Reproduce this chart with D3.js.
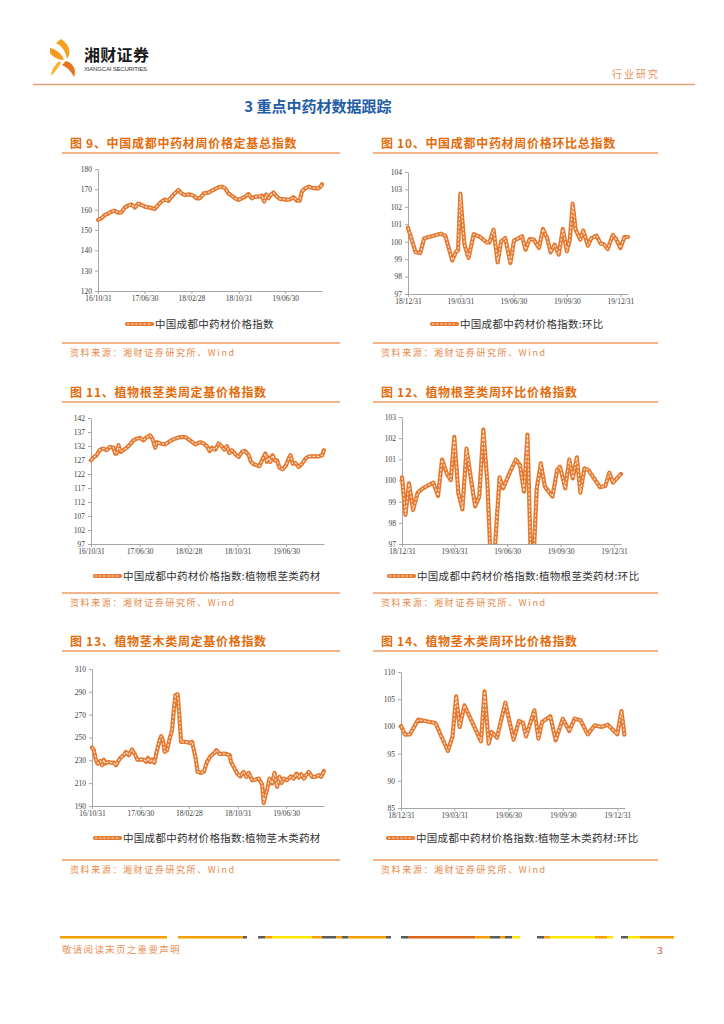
<!DOCTYPE html>
<html><head><meta charset="utf-8">
<script src="https://cdn.jsdelivr.net/npm/d3@7"></script>
<style>body{margin:0;background:#fff}svg{display:block}</style>
</head><body><svg id="c" width="724" height="1024"></svg>
<script>
// ---------- DATA ----------
const longBase = "2016-10-31";
const shortBase = "2018-12-31";
const longTickLabels = ["16/10/31","17/06/30","18/02/28","18/10/31","19/06/30"];
const shortTickLabels = ["18/12/31","19/03/31","19/06/30","19/09/30","19/12/31"];

// Fig 9 (days since 2016-10-31)
const c9Days = [0,17,35,52,69,87,104,122,139,156,174,191,208,226,243,269,295,312,330,347,365,382,399,417,434,451,477,495,512,529,550,573,599,625,642,660,677,694,712,729,746,764,781,798,816,833,851,863,873,885,897,911,929,946,963,981,998,1015,1033,1047,1059,1076,1094,1111,1128,1146,1158,1163];
const c9Vals = [155,155.7,157.4,158,159,159.5,158.5,158.7,161,162,162.6,161,163,162.3,161.5,161,160.3,162.3,164,165,164.3,166.4,168,169.7,168,167.2,167.5,166.9,165.6,165.6,168,168.4,169.7,171,171.3,170.5,168,166.9,165.6,164.8,165.6,166.4,167.7,165.6,166.4,166.4,166.9,164,167.5,165.6,167.2,168.4,166.4,165.2,165.2,164.8,165.1,166.1,164.4,164.4,168.9,170.5,171.3,170.8,170.5,170.5,171.6,172.5];
const c9YTicks = [120,130,140,150,160,170,180];

// Fig 10 (days since 2018-12-31)
const c10Days = [0,13,21,28,36,56,64,76,83,86,90,93,97,104,113,124,135,140,147,154,160,167,176,182,196,202,209,216,225,232,239,245,252,259,266,273,278,283,288,296,301,309,315,324,331,336,343,352,358,365,372,378];
const c10Vals = [100.8,99.4,99.35,100.2,100.27,100.46,100.35,98.93,99.45,99.5,102.76,101.36,99.83,99.07,100.44,100.27,99.96,99.96,100.69,98.82,100.02,100.21,98.78,100.06,100.31,99.54,100.15,100.12,99.64,100.73,100.21,99.39,99.83,99.26,100.73,99.45,100.12,102.18,100.69,100.12,100.65,99.77,100.21,100.35,99.89,99.87,99.58,100.39,100.12,99.64,100.27,100.27];
const c10YTicks = [97,98,99,100,101,102,103,104];

// Fig 11
const c11Days = [0,12,28,45,62,78,95,112,120,128,137,148,161,178,195,211,228,245,261,278,295,306,320,328,345,370,395,419,444,469,494,519,544,561,578,591,603,619,636,652,664,677,689,702,719,736,752,769,786,797,811,839,852,869,877,886,894,905,915,927,939,955,972,985,994,1005,1019,1035,1052,1069,1085,1110,1135,1152,1160];
const c11Vals = [126.9,127.9,128.7,130.7,131.1,130.5,131.7,131.4,129.3,129.3,132.3,129.9,130.5,131.4,132.6,134,134.6,134.9,134,135.2,135.8,134.6,131.4,133.4,132.9,132.6,133.8,134.6,135.2,135.2,134,132.6,133.4,132.9,131.9,130.2,131.4,130.7,132.9,131.9,130.7,131.9,129.5,130.5,129.1,128.1,129.9,130.2,128.7,126.3,125.5,124.8,126.9,129.3,126.3,127.9,126.3,128.7,126.9,126.9,124.3,123.7,125.1,127.5,128.7,125.7,125.9,124.5,125.7,127.5,128.3,128.3,128.3,128.7,130.5];
const c11YTicks = [97,102,107,112,117,122,127,132,137,142];

// Fig 12
const c12Days = [0,6,12,19,27,36,54,62,69,77,84,90,97,104,111,119,126,133,140,147,153,158,168,174,186,196,203,210,216,222,226,232,239,246,259,267,272,281,288,294,301,307,314,321,341,350,357,363,370,377];
const c12Vals = [100.15,98.38,99.87,98.61,99.43,99.63,99.9,99.27,100.99,100.34,100.02,102.06,99.4,98.64,101.51,100.02,98.77,99.24,102.4,99.87,96,96,100.15,99.63,100.41,100.99,100.73,99.47,102.17,96,96,99.63,100.81,99.71,99.24,100.49,100.65,99.63,100.99,100.1,101.09,99.43,100.57,100.49,99.68,99.74,100.37,99.9,100.1,100.31];
const c12YTicks = [97,98,99,100,101,102,103];

// Fig 13
const c13Days = [0,8,20,28,42,50,59,67,79,95,109,120,129,142,159,170,184,200,217,226,242,259,272,281,292,301,312,326,339,347,356,364,376,389,401,409,418,429,438,446,468,493,501,518,529,543,560,576,593,610,623,640,660,676,690,696,710,727,743,760,773,785,802,818,835,852,860,869,877,889,902,914,927,939,949,960,974,985,997,1010,1024,1035,1047,1061,1072,1086,1102,1119,1136,1147,1156,1161];
const c13Vals = [241.2,239.5,230.1,227.2,229.5,225.7,230.7,227.2,228.6,228,228,225.7,228.6,232.1,234.5,237.4,234.5,239.5,234.5,230.7,230.7,230.7,228.6,232.1,228.6,230.7,227.8,238.9,247.7,251.2,247.1,237.4,238.9,249.1,256.4,272.5,287.2,287.8,268.1,246.2,246.2,245.3,246.2,233,219.9,219,219.9,228.6,233.6,236,238.9,235.4,236,235.4,234.5,228.6,224.2,218.4,216,219.9,215.5,219,212.5,213.1,214,209,192.6,199.4,204.3,214,209.6,219,206.7,215.5,210.2,214,212.5,214,216,214,218.4,214.9,217.8,214,217,219.9,215.5,215.5,217,215.5,218.4,220.7];
const c13YTicks = [190,210,230,250,270,290,310];

// Fig 14
const c14Days = [0,7,15,29,58,79,87,93,99,107,135,141,148,153,162,176,190,199,206,211,225,232,238,252,261,273,284,293,303,315,327,338,349,365,372,377];
const c14Vals = [100.07,98.48,98.54,101.24,100.63,95.48,98.17,105.53,99.89,103.87,97.25,106.45,96.83,98.97,97.93,104.36,97.56,100.99,100.63,98.17,102.95,97.75,100.81,101.85,97.44,101.42,99.15,101.42,101.12,98.54,100.2,99.89,100.32,98.54,102.83,98.48];
const c14YTicks = [85,90,95,100,105,110];

const titles = ["图 9、中国成都中药材周价格定基总指数","图 10、中国成都中药材周价格环比总指数","图 11、植物根茎类周定基价格指数","图 12、植物根茎类周环比价格指数","图 13、植物茎木类周定基价格指数","图 14、植物茎木类周环比价格指数"];
const legends = ["中国成都中药材价格指数","中国成都中药材价格指数:环比","中国成都中药材价格指数:植物根茎类药材","中国成都中药材价格指数:植物根茎类药材:环比","中国成都中药材价格指数:植物茎木类药材","中国成都中药材价格指数:植物茎木类药材:环比"];
const sourceText = "资料来源：湘财证券研究所、Wind";

// ---------- LAYOUT ----------
const svg = d3.select("#c");
const ORANGE = "#E4782E";
const parseISO = d3.timeParse("%Y-%m-%d");
const parseTick = d3.timeParse("%y/%m/%d");

// header
const logo = svg.append("g");
logo.append("path").attr("d","M61,39 C69,44 72,52 67,59 C66,52 62,46 56,43 Z").attr("fill","#F5A21E");
logo.append("path").attr("d","M50,48 C56,49 62,54 64,60 C58,60 53,57 50,53 Z").attr("fill","#F39A1E");
logo.append("path").attr("d","M66,61 C73,63 77,70 74,77 C71,71 67,67 62,65 Z").attr("fill","#E8731E");
logo.append("path").attr("d","M61,63 C58,68 55,72 51,76 C51,70 55,65 59,61 Z").attr("fill","#F7B52B");
svg.append("text").attr("x",84).attr("y",61).text("湘财证券")
  .attr("font-family","Noto Sans CJK SC").attr("font-weight","bold").attr("font-size",16).attr("fill","#1a1a1a").attr("letter-spacing",0.3);
svg.append("text").attr("x",84).attr("y",70.5).text("XIANGCAI SECURITIES")
  .attr("font-family","Liberation Sans Narrow, Liberation Sans").attr("font-size",6).attr("fill","#333").attr("textLength",63);
svg.append("text").attr("x",612).attr("y",78).text("行业研究")
  .attr("font-family","Noto Sans CJK SC").attr("font-size",10).attr("fill","#E8925A").attr("letter-spacing",2);
svg.append("line").attr("x1",33).attr("x2",695).attr("y1",84.5).attr("y2",84.5).attr("stroke","#E8A07A").attr("stroke-width",1.5);
svg.append("text").attr("x",318).attr("y",112).attr("text-anchor","middle").text("3 重点中药材数据跟踪")
  .attr("font-family","Noto Sans CJK SC").attr("font-weight","bold").attr("font-size",15).attr("fill","#1F5DA6");

const rows = [
  {title:147.5, rule:153, legend:324, srcRule:343, src:356},
  {title:396.5, rule:402, legend:576, srcRule:593, src:606},
  {title:646, rule:651, legend:838, srcRule:860, src:873}
];
const cols = [{tx:70, r0:62, r1:340}, {tx:381, r0:373, r1:658}];

const panels = [
  {row:0,col:0,days:c9Days,vals:c9Vals,yTicks:c9YTicks,base:longBase,end:1163,ticks:longTickLabels,x0:98,x1:322,yT:169,yB:291,lx:127},
  {row:0,col:1,days:c10Days,vals:c10Vals,yTicks:c10YTicks,base:shortBase,end:378,ticks:shortTickLabels,x0:408,x1:628,yT:172,yB:294,lx:432},
  {row:1,col:0,days:c11Days,vals:c11Vals,yTicks:c11YTicks,base:longBase,end:1161,ticks:longTickLabels,x0:91,x1:324,yT:418,yB:544,lx:95},
  {row:1,col:1,days:c12Days,vals:c12Vals,yTicks:c12YTicks,base:shortBase,end:377,ticks:shortTickLabels,x0:402,x1:621,yT:417,yB:544,lx:389},
  {row:2,col:0,days:c13Days,vals:c13Vals,yTicks:c13YTicks,base:longBase,end:1162,ticks:longTickLabels,x0:92,x1:324,yT:669,yB:806,lx:95},
  {row:2,col:1,days:c14Days,vals:c14Vals,yTicks:c14YTicks,base:shortBase,end:378,ticks:shortTickLabels,x0:401,x1:625,yT:672,yB:808,lx:388}
];

function styledLine(g, d) {
  g.append("path").attr("d",d).attr("fill","none").attr("stroke",ORANGE).attr("stroke-width",4.2)
    .attr("stroke-linejoin","round").attr("stroke-linecap","round");
  g.append("path").attr("d",d).attr("fill","none").attr("stroke","#fff").attr("stroke-width",1.1)
    .attr("stroke-dasharray","2.5,1.6").attr("opacity",0.8).attr("stroke-linejoin","round");
}

panels.forEach((p,i) => {
  const R = rows[p.row], C = cols[p.col];
  // title + rules
  svg.append("text").attr("x",C.tx).attr("y",R.title).text(titles[i])
    .attr("font-family","Noto Sans CJK SC").attr("font-weight","bold").attr("font-size",12)
    .attr("fill","#E46C0A").attr("letter-spacing",0.7);
  svg.append("line").attr("x1",C.r0).attr("x2",C.r1).attr("y1",R.rule).attr("y2",R.rule).attr("stroke","#EE9C62").attr("stroke-width",1.6);
  svg.append("line").attr("x1",C.r0).attr("x2",C.r1).attr("y1",R.srcRule).attr("y2",R.srcRule).attr("stroke","#EE9C62").attr("stroke-width",1.6);
  svg.append("text").attr("x",C.tx).attr("y",R.src).text(sourceText)
    .attr("font-family","Noto Sans CJK SC").attr("font-size",9).attr("fill","#E8894A").attr("letter-spacing",1.6);

  const base = parseISO(p.base);
  const x = d3.scaleTime().domain([base, d3.timeDay.offset(base, p.end)]).range([p.x0, p.x1]);
  const y = d3.scaleLinear().domain(d3.extent(p.yTicks)).range([p.yB, p.yT]);

  // axes
  const ya = svg.append("g").attr("transform",`translate(${p.x0},0)`)
    .call(d3.axisLeft(y).tickValues(p.yTicks).tickFormat(d3.format("d")).tickSize(3).tickSizeOuter(0).tickPadding(3));
  const xa = svg.append("g").attr("transform",`translate(0,${p.yB})`)
    .call(d3.axisBottom(x).tickValues(p.ticks.map(parseTick)).tickFormat(d3.timeFormat("%y/%m/%d")).tickSize(3).tickSizeOuter(0).tickPadding(2));
  [ya,xa].forEach(a => {
    a.select(".domain").attr("stroke","#A6A6A6");
    a.selectAll(".tick line").attr("stroke","#A6A6A6");
    a.selectAll(".tick text").attr("font-family","Liberation Serif").attr("font-size",7.5).attr("fill","#404040");
  });

  // clip
  const cid = "clip"+i;
  svg.append("clipPath").attr("id",cid).append("rect")
    .attr("x",p.x0-3).attr("y",p.yT-20).attr("width",p.x1-p.x0+8).attr("height",p.yB-p.yT+20);
  const pts = p.days.map((d,k) => [d3.timeDay.offset(base, d), p.vals[k]]);
  const line = d3.line().x(d => x(d[0])).y(d => y(d[1]));
  const g = svg.append("g").attr("clip-path",`url(#${cid})`);
  styledLine(g, line(pts));

  // legend
  styledLine(svg.append("g"), `M${p.lx},${R.legend}L${p.lx+25},${R.legend}`);
  svg.append("text").attr("x",p.lx+28).attr("y",R.legend+3.8).text(legends[i])
    .attr("font-family","Noto Sans CJK SC").attr("font-size",10.5).attr("fill","#333").attr("letter-spacing",0.3);
});

// footer decorative band
const footerSegs = [
  [60,167,"#F5A000"],[178,243,"#F5A000"],[243,247,"#5B5B5B"],
  [258,265,"#5B5B5B"],[265,272,"#F5A000"],[272,312,"#FFE600"],[312,322,"#F5A000"],[322,336,"#5B5B5B"],[336,342,"#F5A000"],[342,348,"#5B5B5B"],[348,386,"#F5A000"],[386,391,"#5B5B5B"],
  [401,408,"#5B5B5B"],[408,475,"#D9661A"],[475,490,"#F5A000"],[490,500,"#5B5B5B"],[500,505,"#F5A000"],[505,512,"#5B5B5B"],[512,520,"#FFE600"],
  [537,544,"#5B5B5B"],[544,550,"#F5A000"],[550,595,"#FFE600"],[595,607,"#F5A000"],[607,613,"#FFE600"],
  [621,628,"#5B5B5B"],[628,640,"#FFE600"],[640,674,"#F5A000"]
];
svg.append("g").selectAll("rect").data(footerSegs).join("rect")
  .attr("x",d=>d[0]).attr("width",d=>d[1]-d[0]).attr("y",936).attr("height",2.5).attr("fill",d=>d[2]);
svg.append("text").attr("x",62).attr("y",953).text("敬请阅读末页之重要声明")
  .attr("font-family","Noto Sans CJK SC").attr("font-size",9.5).attr("fill","#E8925A").attr("letter-spacing",1.3);
svg.append("text").attr("x",657).attr("y",954).text("3")
  .attr("font-family","Liberation Serif").attr("font-size",11).attr("fill","#C0392B");
</script></body></html>
